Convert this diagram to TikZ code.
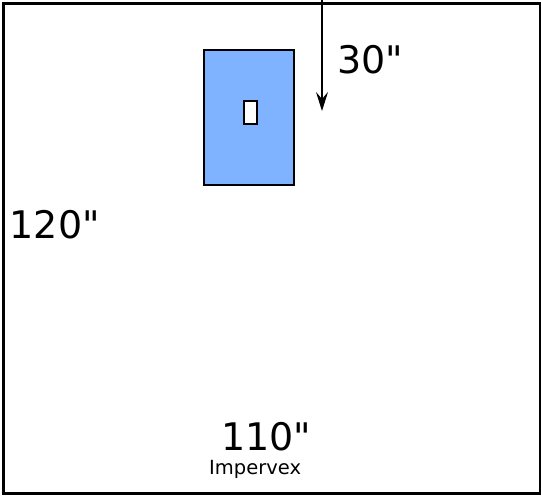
\documentclass[tikz,border=0pt]{standalone}
\usepackage{fontspec}
\setmainfont{DejaVu Sans}[Ligatures=TeXOff]
\usetikzlibrary{arrows.meta}
\begin{document}
\begin{tikzpicture}[x=1pt,y=-1pt,
  frame/.style={draw=black,line width=2.5pt},
  bigtext/.style={anchor=base west,inner sep=0pt,font=\fontsize{38}{40}\selectfont},
  smalltext/.style={anchor=base west,inner sep=0pt,font=\fontsize{19.5}{22}\selectfont}]
\useasboundingbox (0,0) rectangle (541,496);
\node[frame,minimum width=536.5pt,minimum height=490pt,inner sep=0pt,anchor=north west] (room) at (2,2) {};
\node[draw=black,line width=2.5pt,fill={rgb,255:red,128;green,179;blue,255},minimum width=90pt,minimum height=135pt,inner sep=0pt,anchor=north west] (panel) at (202.5,48.5) {};
\node[draw=black,line width=2.5pt,fill=white,minimum width=13pt,minimum height=23pt,inner sep=0pt] (hole) at (250.5,112.5) {};
\coordinate (atop) at (322,0);
\coordinate (abot) at (322,111);
\draw[line width=1.2pt,-{Stealth[length=19pt,width=12pt,inset=7pt]}] (atop) -- (abot);
\node[bigtext] (t30) at (337,73) {30"};
\node[bigtext] (t120) at (9.5,238.5) {120"};
\node[bigtext] (t110) at (221,450) {110"};
\node[smalltext] (imp) at (209,474) {Impervex};
\end{tikzpicture}
\end{document}
